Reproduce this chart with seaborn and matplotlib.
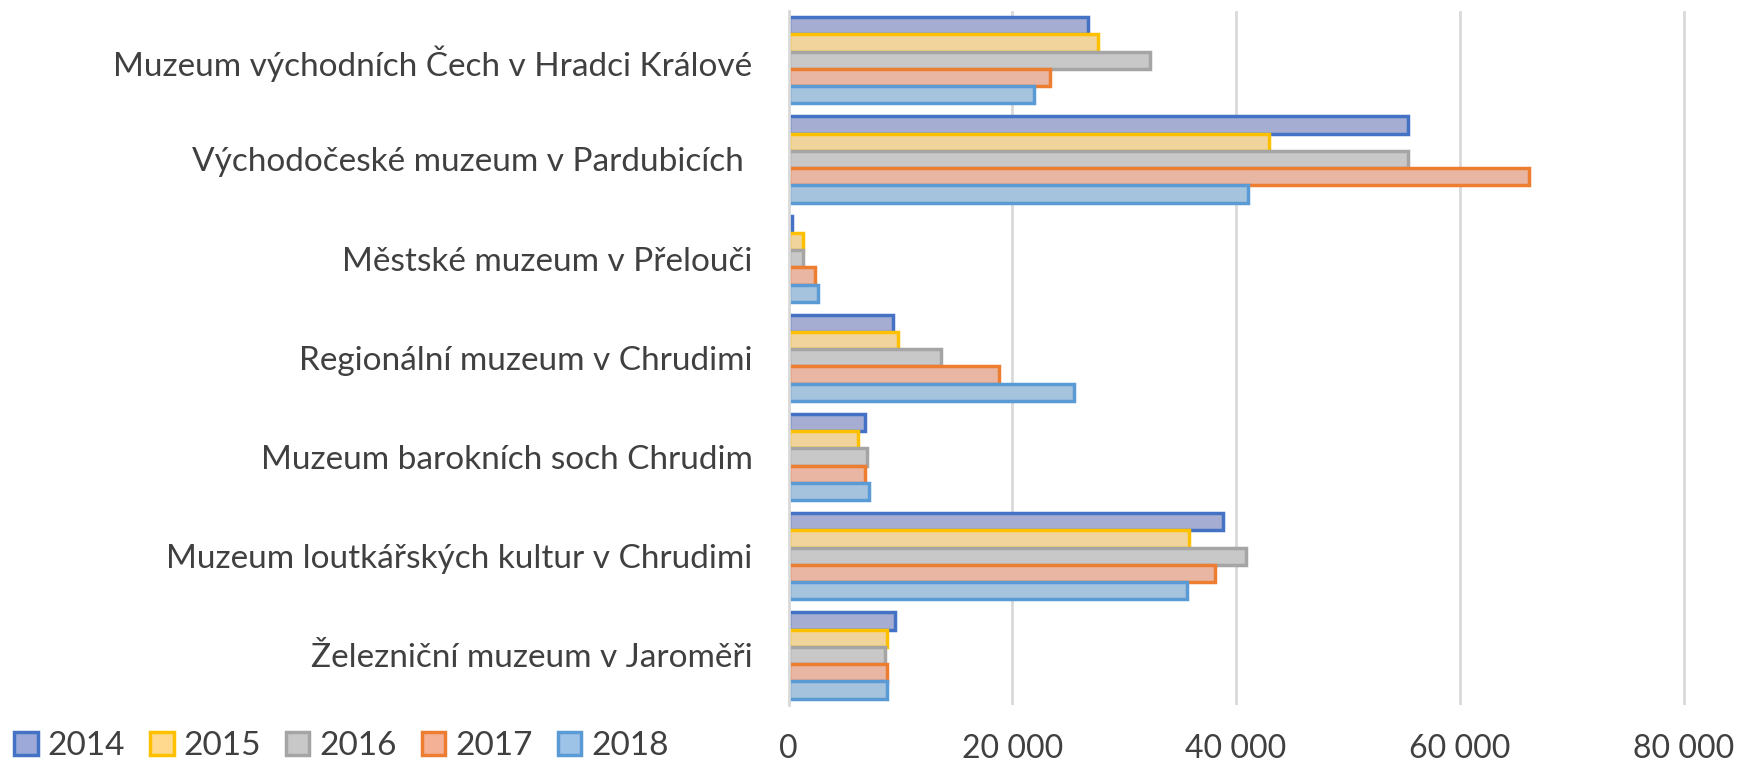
import matplotlib
matplotlib.use("Agg")
import matplotlib.pyplot as plt
from matplotlib.patches import Patch
from matplotlib.ticker import FuncFormatter
import pandas as pd
import seaborn as sns

museums = [
    "Muzeum východních Čech v Hradci Králové",
    "Východočeské muzeum v Pardubicích ",
    "Městské muzeum v Přelouči",
    "Regionální muzeum v Chrudimi",
    "Muzeum barokních soch Chrudim",
    "Muzeum loutkářských kultur v Chrudimi",
    "Železniční muzeum v Jaroměři",
]
years = ["2014", "2015", "2016", "2017", "2018"]

# visitors per museum, one list per year
v2014 = [26800, 55400, 300, 9300, 6800, 38800, 9500]
v2015 = [27700, 42900, 1300, 9800, 6200, 35800, 8800]
v2016 = [32300, 55400, 1300, 13600, 7000, 40900, 8600]
v2017 = [23400, 66200, 2400, 18800, 6800, 38100, 8800]
v2018 = [21900, 41100, 2600, 25500, 7200, 35600, 8800]

fill_colors = ["#9DA9D9", "#FFD98E", "#C8C8C8", "#F4B196", "#9DC3E6"]
edge_colors = ["#4472C4", "#FFC000", "#A5A5A5", "#ED7D31", "#5B9BD5"]

rows = []
for year, vals in zip(years, [v2014, v2015, v2016, v2017, v2018]):
    for m, v in zip(museums, vals):
        rows.append({"museum": m, "year": year, "visitors": v})
df = pd.DataFrame(rows)

sns.set_theme(style="white")
plt.rcParams["font.family"] = ["Lato", "DejaVu Sans"]

fig = plt.figure(figsize=(17.37, 7.63), dpi=100)
ax = fig.add_axes([0.454, 0.076, 0.541, 0.910])

sns.barplot(data=df, y="museum", x="visitors", hue="year", order=museums,
            hue_order=years, palette=fill_colors, width=0.87, gap=0,
            orient="h", errorbar=None, ax=ax, legend=False)

for cont, ec in zip(ax.containers, edge_colors):
    for bar in cont:
        bar.set_edgecolor(ec)
        bar.set_linewidth(2.5)

ax.set_xlim(0, 84000)
ax.set_xticks([0, 20000, 40000, 60000, 80000])
ax.xaxis.set_major_formatter(FuncFormatter(lambda v, p: f"{int(v):,}".replace(",", " ")))
ax.grid(axis="x", color="#D9D9D9", linewidth=2)
ax.set_axisbelow(True)
for s in ["top", "right", "bottom"]:
    ax.spines[s].set_visible(False)
ax.spines["left"].set_color("#D9D9D9")
ax.spines["left"].set_linewidth(2)
ax.tick_params(axis="y", length=0, pad=26, labelsize=24, labelcolor="#404040")
ax.tick_params(axis="x", length=0, pad=21, labelsize=23, labelcolor="#404040")
ax.set_xlabel("")
ax.set_ylabel("")

handles = [Patch(facecolor=f, edgecolor=e, linewidth=2.5) for f, e in zip(fill_colors, edge_colors)]
fig.legend(handles, years, loc="lower left", bbox_to_anchor=(-0.009, -0.037), ncol=5,
           frameon=False, fontsize=24, handlelength=0.7, handleheight=0.7,
           handletextpad=0.3, columnspacing=0.75, labelcolor="#404040")

fig.savefig("out.png", dpi=100)
